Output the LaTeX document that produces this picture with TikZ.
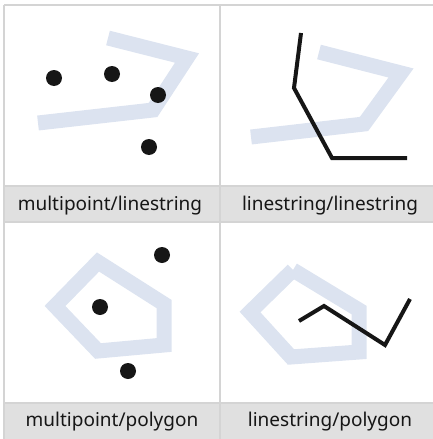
\documentclass[tikz,border=0pt]{standalone}
\usepackage{fontspec}
\setmainfont{Noto Sans}
\definecolor{geomblue}{HTML}{DCE3F0}
\definecolor{gridline}{HTML}{D4D4D4}
\definecolor{bandfill}{HTML}{E0E0E0}
\definecolor{ink}{HTML}{161616}
\begin{document}
\begin{tikzpicture}[x=1pt,y=-1pt,
  reference/.style={draw=geomblue,line width=15pt,line join=miter,line cap=butt},
  subject/.style={draw=ink,line width=4pt,line join=miter,line cap=butt},
  dot/.style={circle,fill=ink,inner sep=0pt,minimum size=16pt},
  caption/.style={anchor=base,inner sep=0pt,text=ink,font=\fontsize{19}{22}\selectfont},
  grid/.style={draw=gridline,line width=1.2pt}]
\useasboundingbox (0,0) rectangle (433,439);

% caption bands
\fill[bandfill] (4,186) rectangle (433,222);
\fill[bandfill] (4,403) rectangle (433,439);

% table rules
\draw[grid] (4,5) -- (433,5);
\draw[grid] (4,5) -- (4,439);
\draw[grid] (220,5) -- (220,439);
\draw[grid] (4,186) -- (433,186);
\draw[grid] (4,222) -- (433,222);
\draw[grid] (4,403) -- (433,403);

% multipoint / linestring
\draw[reference] (108,38) -- (187,58) -- (153,110) -- (38,123);
\node[dot] (a1) at (54,78) {};
\node[dot] (a2) at (112,74) {};
\node[dot] (a3) at (158,95) {};
\node[dot] (a4) at (149,147) {};
\node[caption] (ca) at (110,210) {multipoint/linestring};

% linestring / linestring
\draw[reference] (319,52) -- (401,73) -- (364,124) -- (251,137);
\draw[subject] (301,33) -- (294,88) -- (332,158) -- (407,158);
\node[caption] (cb) at (330,210) {linestring/linestring};

% multipoint / polygon
\draw[reference] (98,262) -- (55,306) -- (98,351) -- (164,345) -- (164,304) -- cycle;
\node[dot] (c1) at (162,255) {};
\node[dot] (c2) at (100,307) {};
\node[dot] (c3) at (128,371) {};
\node[caption] (cc) at (112,426) {multipoint/polygon};

% linestring / polygon
\draw[reference] (293,270) -- (250,312) -- (291,357) -- (359,352) -- (359,310) -- (293,270);
\draw[subject] (299,321) -- (324,306) -- (385,345) -- (410,299);
\node[caption] (cd) at (330,426) {linestring/polygon};
\end{tikzpicture}
\end{document}
